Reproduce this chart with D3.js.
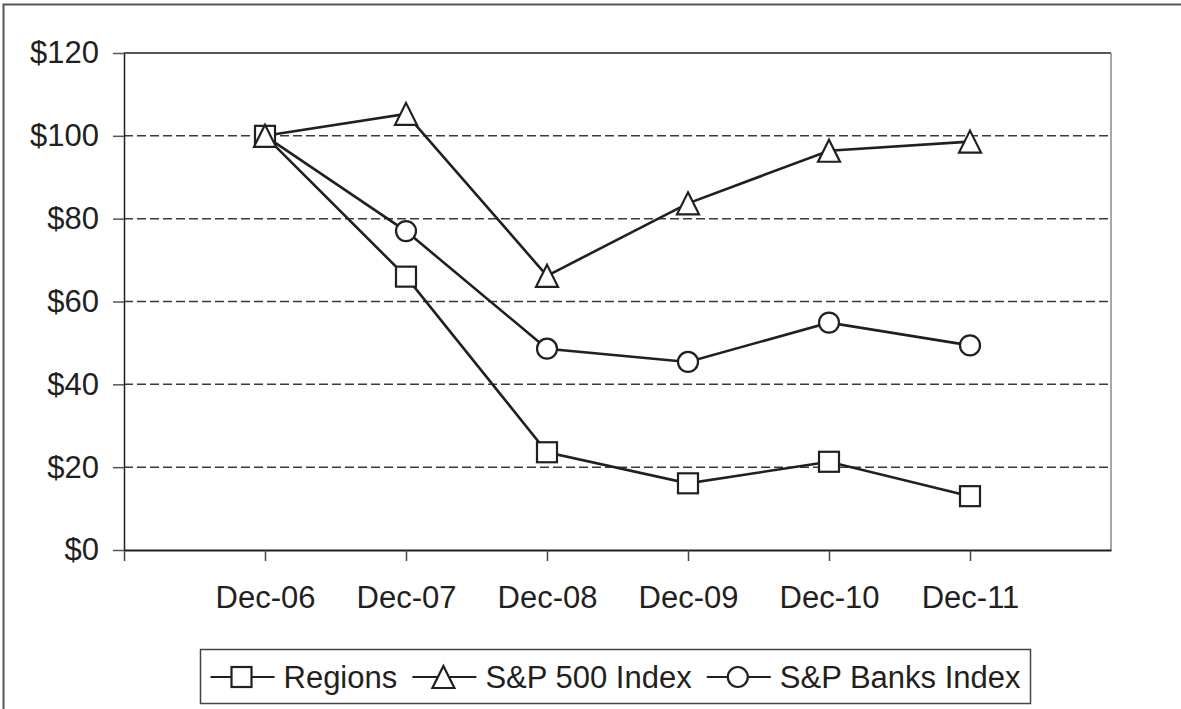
<!DOCTYPE html>
<html>
<head>
<meta charset="utf-8">
<script src="https://cdn.jsdelivr.net/npm/d3@7"></script>
<style>
  html, body { margin: 0; padding: 0; background: #fff; }
  svg { display: block; font-family: "Liberation Sans", Arial, Helvetica, sans-serif; }
</style>
</head>
<body>
<svg id="chart" width="1181" height="709"></svg>
<script>
// data
const categories = ['Dec-06', 'Dec-07', 'Dec-08', 'Dec-09', 'Dec-10', 'Dec-11'];
const regions = [100, 66.0, 23.6, 16.1, 21.3, 13.0];
const sp500 = [100, 105.3, 66.2, 83.7, 96.4, 98.6];
const spBanks = [100, 77.0, 48.6, 45.4, 54.9, 49.4];
const yTicks = [0, 20, 40, 60, 80, 100, 120];

const series = [
  { name: 'Regions', values: regions, marker: 'square' },
  { name: 'S&P 500 Index', values: sp500, marker: 'triangle' },
  { name: 'S&P Banks Index', values: spBanks, marker: 'circle' }
];

const ink = '#231f20';
const fontSize = '31px';
const svg = d3.select('#chart');

// outer frame (right/bottom edges fall outside the picture)
svg.append('rect')
  .attr('x', 3.5).attr('y', 4.5)
  .attr('width', 1200).attr('height', 720)
  .attr('fill', 'none').attr('stroke', '#555').attr('stroke-width', 2);

const plotLeft = 124, plotRight = 1111, plotTop = 53, plotBottom = 550;

// one empty slot either side of the categories
const x = d3.scaleLinear().domain([0, categories.length + 1]).range([plotLeft, plotRight]);
const y = d3.scaleLinear().domain([0, 120]).range([plotBottom, plotTop]);

// dashed gridlines
svg.append('g')
  .selectAll('line')
  .data(yTicks.filter(t => t > 0 && t < 120))
  .join('line')
  .attr('x1', plotLeft).attr('x2', plotRight)
  .attr('y1', d => y(d)).attr('y2', d => y(d))
  .attr('stroke', '#3a3a3a')
  .attr('stroke-width', 1.5)
  .attr('stroke-dasharray', '9,4');

// plot-area frame: top dark, right grey
svg.append('line')
  .attr('x1', plotLeft).attr('x2', plotRight).attr('y1', plotTop).attr('y2', plotTop)
  .attr('stroke', ink).attr('stroke-width', 1.5);
svg.append('line')
  .attr('x1', plotRight).attr('x2', plotRight).attr('y1', plotTop).attr('y2', plotBottom)
  .attr('stroke', '#888').attr('stroke-width', 1.5);

// y axis
const yAxis = d3.axisLeft(y)
  .tickValues(yTicks)
  .tickSize(11)
  .tickSizeOuter(0)
  .tickPadding(14)
  .tickFormat(d => '$' + d);

const gy = svg.append('g')
  .attr('transform', `translate(${plotLeft},0)`)
  .call(yAxis);
gy.select('.domain').attr('stroke', ink).attr('stroke-width', 1.5);
gy.selectAll('.tick line').attr('stroke', '#555').attr('stroke-width', 1.5);
gy.selectAll('.tick text')
  .attr('fill', ink)
  .style('font-size', fontSize);

// x axis (no tick at the far right end)
const xAxis = d3.axisBottom(x)
  .tickValues(d3.range(0, categories.length + 1))
  .tickSize(11)
  .tickSizeOuter(0)
  .tickPadding(25)
  .tickFormat(i => categories[i - 1] || '');

const gx = svg.append('g')
  .attr('transform', `translate(0,${plotBottom})`)
  .call(xAxis);
gx.select('.domain').attr('stroke', ink).attr('stroke-width', 2);
gx.selectAll('.tick line').attr('stroke', '#444').attr('stroke-width', 1.5);
gx.selectAll('.tick text')
  .attr('fill', ink)
  .style('font-size', fontSize);

// marker shapes
function drawMarker(g, type, cx, cy) {
  if (type === 'square') {
    g.append('rect')
      .attr('x', cx - 10).attr('y', cy - 10)
      .attr('width', 20).attr('height', 20);
  } else if (type === 'triangle') {
    g.append('path')
      .attr('d', `M${cx},${cy - 11}L${cx + 11},${cy + 11}L${cx - 11},${cy + 11}Z`);
  } else {
    g.append('circle').attr('cx', cx).attr('cy', cy).attr('r', 10);
  }
}

const line = d3.line()
  .x((d, i) => x(i + 1))
  .y(d => y(d));

// lines first, then markers on top
const lines = svg.append('g');
series.forEach(s => {
  lines.append('path')
    .datum(s.values)
    .attr('d', line)
    .attr('fill', 'none')
    .attr('stroke', ink)
    .attr('stroke-width', 2.6);
});

// triangles drawn last so the Dec-06 triangle sits over the square like the reference
const markers = svg.append('g')
  .attr('fill', '#fff')
  .attr('stroke', ink)
  .attr('stroke-width', 2.2);
[series[2], series[0], series[1]].forEach(s => {
  s.values.forEach((v, i) => drawMarker(markers, s.marker, x(i + 1), y(v)));
});

// legend: items laid out in sequence, spare room shared between them
const boxX = 200.5, boxW = 830, ly = 677;
const legend = svg.append('g');
legend.append('rect')
  .attr('x', boxX).attr('y', 649.5)
  .attr('width', boxW).attr('height', 54)
  .attr('fill', '#fff').attr('stroke', '#444').attr('stroke-width', 1.5);

const items = series.map(s => {
  const item = legend.append('g');
  item.append('line')
    .attr('x1', 0).attr('x2', 64)
    .attr('y1', ly).attr('y2', ly)
    .attr('stroke', ink).attr('stroke-width', 2.2);
  const mk = item.append('g')
    .attr('fill', '#fff').attr('stroke', ink).attr('stroke-width', 2.2);
  drawMarker(mk, s.marker, 31, ly);
  const t = item.append('text')
    .attr('x', 73)
    .attr('y', ly)
    .attr('dy', '0.35em')
    .attr('fill', ink)
    .style('font-size', fontSize)
    .text(s.name);
  return { item, w: 73 + t.node().getComputedTextLength() };
});

const pad = 10;
const used = d3.sum(items, d => d.w);
const gap = Math.max(4, (boxW - 2 * pad - used) / (items.length - 1));
let cursor = boxX + pad;
items.forEach(d => {
  d.item.attr('transform', `translate(${cursor},0)`);
  cursor += d.w + gap;
});
</script>
</body>
</html>
